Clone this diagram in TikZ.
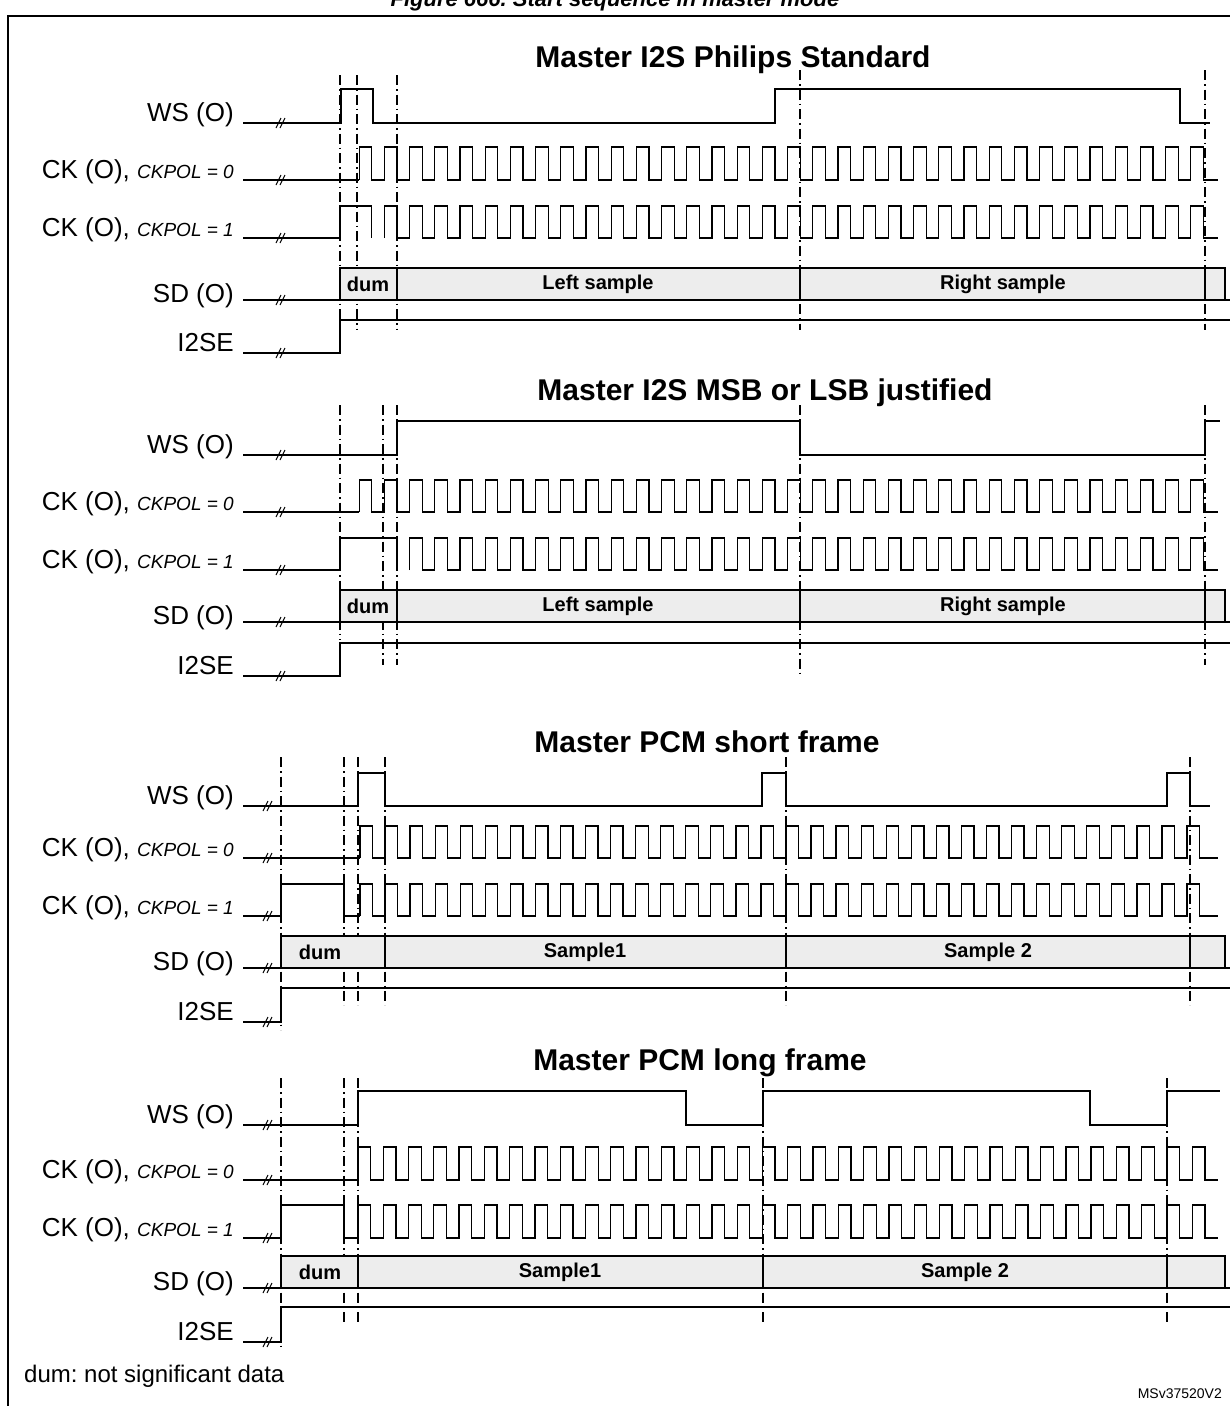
\documentclass[tikz,border=0pt]{standalone}
\usepackage{fontspec}
\setmainfont{Liberation Sans}
\frenchspacing
\newcommand\brk[2]{\draw[line width=1pt] (#1-5,#2+5) -- (#1,#2-5) (#1-1,#2+5) -- (#1+4,#2-5);}
\newcommand\pulses[7]{\draw[sig] (#1+#2*#3,#5) foreach \k in {#3,...,#4}{ -- (#1+\k*#2,#5) -- (#1+\k*#2,#6) -- (#1+\k*#2+#2/2,#6) -- (#1+\k*#2+#2/2,#5)} -- (#7,#5);}
\newcommand\ckl[1]{CK (O), {\itshape\fontsize{19}{20}\selectfont CKPOL = #1}}
\begin{document}
\begin{tikzpicture}[x=1pt,y=-1pt,
 sig/.style={line width=1.3pt},
 dd/.style={line width=1.1pt,dash pattern=on 10pt off 4pt on 1.5pt off 4pt},
 lab/.style={anchor=base east,font=\fontsize{26}{28}\selectfont,inner sep=0},
 ttl/.style={font=\bfseries\fontsize{30}{32}\selectfont,inner sep=0},
 smp/.style={font=\bfseries\fontsize{20}{22}\selectfont,inner sep=0},
 sdbox/.style={draw,fill=black!7,line width=1.3pt}]
\useasboundingbox (0,0) rectangle (1230,1406);
\node[font=\bfseries\itshape\fontsize{22}{24}\selectfont] (fig) at (615,1) {Figure 666. Start sequence in master mode};
\draw[line width=1.5pt] (8,1420) -- (8,16) -- (1240,16);

% ===== Section 1 =====
\node[ttl] (t1) at (733,60) {Master I2S Philips Standard};
\node[lab] (l1a) at (234,121) {WS (O)};
\node[lab] (l1b) at (234,178) {\ckl{0}};
\node[lab] (l1c) at (234,236) {\ckl{1}};
\node[lab] (l1d) at (234,302) {SD (O)};
\node[lab] (l1e) at (234,351) {I2SE};
\foreach \x in {340,357,397} {\draw[dd] (\x,75) -- (\x,330);}
\foreach \x in {800,1205} {\draw[dd] (\x,70) -- (\x,330);}
\draw[sig] (243,123)--(341,123)--(341,89)--(373,89)--(373,123)--(775,123)--(775,89)--(1180,89)--(1180,123)--(1210,123);
\draw[sig] (243,180)--(359.2,180);
\pulses{359.2}{25.2}{0}{33}{180}{147}{1218}
\draw[sig] (243,238)--(340,238)--(340,206)--(371.8,206)--(371.8,238);
\pulses{359.2}{25.2}{1}{33}{238}{206}{1218}
\draw[sdbox] (340,268) rectangle (1225,300);
\draw[sig] (243,300)--(1230,300) (397,268)--(397,300) (800,268)--(800,300) (1205,268)--(1205,300);
\node[smp] (d1) at (368,284) {dum};
\node[smp] (s1a) at (598,284) {Left sample};
\node[smp] (s1b) at (1003,284) {Right sample};
\draw[sig] (243,353)--(340,353)--(340,320)--(1230,320);
\foreach \y in {123,180,238,300,353} {\brk{281}{\y}}

% ===== Section 2 =====
\node[ttl] (t2) at (765,393) {Master I2S MSB or LSB justified};
\node[lab] (l2a) at (234,453) {WS (O)};
\node[lab] (l2b) at (234,510) {\ckl{0}};
\node[lab] (l2c) at (234,568) {\ckl{1}};
\node[lab] (l2d) at (234,624) {SD (O)};
\node[lab] (l2e) at (234,674) {I2SE};
\draw[dd] (340,405) -- (340,640);
\foreach \x in {383,397,1205} {\draw[dd] (\x,405) -- (\x,665);}
\draw[dd] (800,405) -- (800,675);
\draw[sig] (243,455)--(397,455)--(397,421)--(800,421)--(800,455)--(1205,455)--(1205,421)--(1220,421);
\draw[sig] (243,512)--(359.2,512);
\pulses{359.2}{25.2}{0}{33}{512}{480}{1218}
\draw[sig] (243,570)--(340,570)--(340,538)--(397,538)--(397,570);
\pulses{359.2}{25.2}{2}{33}{570}{538}{1218}
\draw[sdbox] (340,590) rectangle (1225,622);
\draw[sig] (243,622)--(1230,622) (397,590)--(397,622) (800,590)--(800,622) (1205,590)--(1205,622);
\node[smp] (d2) at (368,606) {dum};
\node[smp] (s2a) at (598,606) {Left sample};
\node[smp] (s2b) at (1003,606) {Right sample};
\draw[sig] (243,676)--(340,676)--(340,643)--(1230,643);
\foreach \y in {455,512,570,622,676} {\brk{281}{\y}}

% ===== Section 3 =====
\node[ttl] (t3) at (707,742) {Master PCM short frame};
\node[lab] (l3a) at (234,804) {WS (O)};
\node[lab] (l3b) at (234,856) {\ckl{0}};
\node[lab] (l3c) at (234,914) {\ckl{1}};
\node[lab] (l3d) at (234,970) {SD (O)};
\node[lab] (l3e) at (234,1020) {I2SE};
\draw[dd] (281,757) -- (281,1030);
\foreach \x in {344,358,385,786,1190} {\draw[dd] (\x,757) -- (\x,1005);}
\draw[sig] (243,806)--(358,806)--(358,773)--(385,773)--(385,806)--(762,806)--(762,773)--(786,773)--(786,806)--(1167,806)--(1167,773)--(1190,773)--(1190,806)--(1210,806);
\draw[sig] (243,858)--(360,858);
\pulses{360}{25.06}{0}{33}{858}{826}{1218}
\draw[sig] (243,916)--(281,916)--(281,884)--(344,884)--(344,916)--(360,916);
\pulses{360}{25.06}{0}{33}{916}{884}{1218}
\draw[sdbox] (281,936) rectangle (1225,968);
\draw[sig] (243,968)--(1230,968) (385,936)--(385,968) (786,936)--(786,968) (1190,936)--(1190,968);
\node[smp] (d3) at (320,952) {dum};
\node[smp] (s3a) at (585,952) {Sample1};
\node[smp] (s3b) at (988,952) {Sample 2};
\draw[sig] (243,1022)--(281,1022)--(281,988)--(1230,988);
\foreach \y in {806,858,916,968,1022} {\brk{268}{\y}}

% ===== Section 4 =====
\node[ttl] (t4) at (700,1063) {Master PCM long frame};
\node[lab] (l4a) at (234,1123) {WS (O)};
\node[lab] (l4b) at (234,1178) {\ckl{0}};
\node[lab] (l4c) at (234,1236) {\ckl{1}};
\node[lab] (l4d) at (234,1290) {SD (O)};
\node[lab] (l4e) at (234,1340) {I2SE};
\draw[dd] (281,1078) -- (281,1348);
\foreach \x in {344,358,763,1167} {\draw[dd] (\x,1078) -- (\x,1322);}
\draw[sig] (243,1125)--(358,1125)--(358,1091)--(686,1091)--(686,1125)--(763,1125)--(763,1091)--(1090,1091)--(1090,1125)--(1167,1125)--(1167,1091)--(1220,1091);
\draw[sig] (243,1180)--(358,1180);
\pulses{358}{25.28}{0}{33}{1180}{1147}{1218}
\draw[sig] (243,1238)--(281,1238)--(281,1205)--(344,1205)--(344,1238)--(358,1238);
\pulses{358}{25.28}{0}{33}{1238}{1205}{1218}
\draw[sdbox] (281,1256) rectangle (1225,1288);
\draw[sig] (243,1288)--(1230,1288) (358,1256)--(358,1288) (763,1256)--(763,1288) (1167,1256)--(1167,1288);
\node[smp] (d4) at (320,1272) {dum};
\node[smp] (s4a) at (560,1272) {Sample1};
\node[smp] (s4b) at (965,1272) {Sample 2};
\draw[sig] (243,1342)--(281,1342)--(281,1307)--(1230,1307);
\foreach \y in {1125,1180,1238,1288,1342} {\brk{268}{\y}}

\node[anchor=base west,font=\fontsize{24}{26}\selectfont,inner sep=0] (note) at (24,1382) {dum: not significant data};
\node[anchor=base east,font=\fontsize{14}{16}\selectfont,inner sep=0] (id) at (1222,1398) {MSv37520V2};
\end{tikzpicture}
\end{document}
